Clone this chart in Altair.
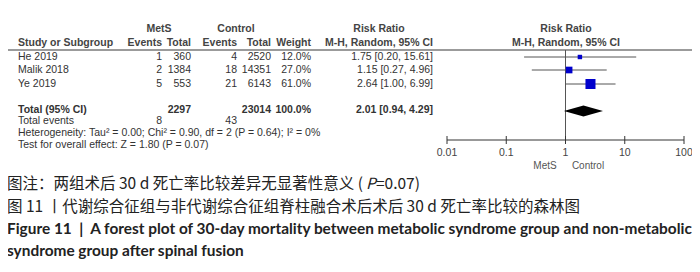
import altair as alt
import pandas as pd

# ---------------- data ----------------
studies = ["He 2019", "Malik 2018", "Ye 2019"]
mets_events = [1, 2, 5]
mets_total = [360, 1384, 553]
ctrl_events = [4, 18, 21]
ctrl_total = [2520, 14351, 6143]
weights = [12.0, 27.0, 61.0]
rr = [1.75, 1.15, 2.64]
rr_lo = [0.20, 0.27, 1.00]
rr_hi = [15.61, 4.96, 6.99]

total_label = "Total (95% CI)"
total_mets = 2297
total_ctrl = 23014
total_weight = 100.0
total_events_mets = 8
total_events_ctrl = 43
pooled_rr = 2.01
pooled_lo = 0.94
pooled_hi = 4.29
heterogeneity = "Heterogeneity: Tau\u00b2 = 0.00; Chi\u00b2 = 0.90, df = 2 (P = 0.64); I\u00b2 = 0%"
overall = "Test for overall effect: Z = 1.80 (P = 0.07)"
axis_ticks = [0.01, 0.1, 1, 10, 100]
axis_tick_labels = ["0.01", "0.1", "1", "10", "100"]
favours = ["MetS", "Control"]

caption1a = "图注：两组术后 30 d 死亡率比较差异无显著性意义 ("
caption1p = "P"
caption1b = "=0.07)"
caption2 = "图 11 丨代谢综合征组与非代谢综合征组脊柱融合术后术后 30 d 死亡率比较的森林图"
caption3 = "Figure 11\u00a0\u00a0|\u00a0\u00a0A forest plot of 30-day mortality between metabolic syndrome group and non-metabolic"
caption4 = "syndrome group after spinal fusion"

# ---------------- layout (page pixels) ----------------
W, H = 684, 256
XS = alt.Scale(domain=[8, 692], range=[0, W], nice=False, zero=False)
YS = alt.Scale(domain=[8, 264], range=[0, H], nice=False, zero=False)
LOGX = alt.Scale(type="log", domain=[0.01, 100], range=[439, 676], nice=False)

Y_HEAD1, Y_HEAD2, Y_LINE = 29, 43, 50
ROW_Y = [57, 70, 84]
Y_TOTAL, Y_TEV, Y_HET, Y_TEST = 110, 121, 133, 145
Y_DIAMOND = 111
Y_AXIS, Y_TICKLAB, Y_FAV = 140, 153, 166
X_STUDY, X_EV1, X_TOT1, X_EV2, X_TOT2, X_W, X_RR, X_RRC = 18, 162, 191, 237, 271, 311, 433, 379
X_FP = 566

TXT = "#333333"
FONT = "Liberation Sans"
FS = 10.5


def text_layer(rows, align="left", weight="normal", size=FS, color=TXT, font=FONT, style="normal"):
    df = pd.DataFrame(rows, columns=["x", "y", "t"])
    return alt.Chart(df).mark_text(
        align=align, baseline="middle", font=font, fontSize=size,
        fontWeight=weight, fontStyle=style, color=color
    ).encode(
        x=alt.X("x:Q", scale=XS, axis=None),
        y=alt.Y("y:Q", scale=YS, axis=None),
        text="t:N",
    )


layers = []

# headers
layers.append(text_layer([
    [159, Y_HEAD1, "MetS"], [236, Y_HEAD1, "Control"],
    [X_RRC, Y_HEAD1, "Risk Ratio"], [X_FP, Y_HEAD1, "Risk Ratio"],
    [X_RRC, Y_HEAD2, "M-H, Random, 95% CI"], [X_FP, Y_HEAD2, "M-H, Random, 95% CI"],
], align="center", weight="bold", color="#444444"))
layers.append(text_layer([[X_STUDY, Y_HEAD2, "Study or Subgroup"]], weight="bold", color="#444444"))
layers.append(text_layer([
    [X_EV1, Y_HEAD2, "Events"], [X_TOT1, Y_HEAD2, "Total"],
    [X_EV2, Y_HEAD2, "Events"], [X_TOT2, Y_HEAD2, "Total"],
    [X_W, Y_HEAD2, "Weight"],
], align="right", weight="bold", color="#444444"))

# header line
line_df = pd.DataFrame({"x": [7], "x2": [692], "y": [Y_LINE]})
layers.append(alt.Chart(line_df).mark_rule(color="#7a7a7a", strokeWidth=1.5).encode(
    x=alt.X("x:Q", scale=XS, axis=None), x2="x2:Q", y=alt.Y("y:Q", scale=YS, axis=None)))

# study rows
left_rows = [[X_STUDY, y, s] for s, y in zip(studies, ROW_Y)]
left_rows += [[X_STUDY, Y_TEV, "Total events"], [X_STUDY, Y_HET, heterogeneity], [X_STUDY, Y_TEST, overall]]
layers.append(text_layer(left_rows))
right_rows = []
for i, y in enumerate(ROW_Y):
    right_rows += [
        [X_EV1, y, str(mets_events[i])], [X_TOT1, y, str(mets_total[i])],
        [X_EV2, y, str(ctrl_events[i])], [X_TOT2, y, str(ctrl_total[i])],
        [X_W, y, f"{weights[i]:.1f}%"],
        [X_RR, y, f"{rr[i]:.2f} [{rr_lo[i]:.2f}, {rr_hi[i]:.2f}]"],
    ]
right_rows += [[X_EV1, Y_TEV, str(total_events_mets)], [X_EV2, Y_TEV, str(total_events_ctrl)]]
layers.append(text_layer(right_rows, align="right"))

# total row (bold)
layers.append(text_layer([[X_STUDY, Y_TOTAL, total_label]], weight="bold"))
layers.append(text_layer([
    [X_TOT1, Y_TOTAL, str(total_mets)], [X_TOT2, Y_TOTAL, str(total_ctrl)],
    [X_W, Y_TOTAL, f"{total_weight:.1f}%"],
    [X_RR, Y_TOTAL, f"{pooled_rr:.2f} [{pooled_lo:.2f}, {pooled_hi:.2f}]"],
], align="right", weight="bold"))

# ---------------- forest plot ----------------
forest = pd.DataFrame({"rr": rr, "lo": rr_lo, "hi": rr_hi, "w": weights, "y": ROW_Y})

null_df = pd.DataFrame({"v": [1], "y1": [Y_LINE], "y2": [Y_AXIS]})
layers.append(alt.Chart(null_df).mark_rule(color="#555555", strokeWidth=1).encode(
    x=alt.X("v:Q", scale=LOGX, axis=None),
    y=alt.Y("y1:Q", scale=YS, axis=None), y2="y2:Q"))

layers.append(alt.Chart(forest).mark_rule(color="#555555", strokeWidth=1).encode(
    x=alt.X("lo:Q", scale=LOGX, axis=None), x2="hi:Q",
    y=alt.Y("y:Q", scale=YS, axis=None)))

layers.append(alt.Chart(forest).mark_square(color="#0000cc", opacity=1, filled=True).encode(
    x=alt.X("rr:Q", scale=LOGX, axis=None),
    y=alt.Y("y:Q", scale=YS, axis=None),
    size=alt.Size("w:Q", scale=alt.Scale(domain=[0, 100], range=[0, 165]), legend=None)))

diamond = pd.DataFrame({
    "x": [pooled_lo, pooled_rr, pooled_hi],
    "yt": [Y_DIAMOND, Y_DIAMOND - 5.5, Y_DIAMOND],
    "yb": [Y_DIAMOND, Y_DIAMOND + 5.5, Y_DIAMOND],
})
layers.append(alt.Chart(diamond).mark_area(color="black", orient="vertical", interpolate="linear").encode(
    x=alt.X("x:Q", scale=LOGX, axis=None),
    y=alt.Y("yt:Q", scale=YS, axis=None), y2="yb:Q"))

# axis
ax_df = pd.DataFrame({"a": [axis_ticks[0]], "b": [axis_ticks[-1]], "y": [Y_AXIS]})
layers.append(alt.Chart(ax_df).mark_rule(color="#333333", strokeWidth=1).encode(
    x=alt.X("a:Q", scale=LOGX, axis=None), x2="b:Q", y=alt.Y("y:Q", scale=YS, axis=None)))
ticks_df = pd.DataFrame({"t": axis_ticks, "lab": axis_tick_labels,
                         "y1": [Y_AXIS - 4] * 5, "y2": [Y_AXIS + 4] * 5, "yl": [Y_TICKLAB] * 5})
layers.append(alt.Chart(ticks_df).mark_rule(color="#333333", strokeWidth=1).encode(
    x=alt.X("t:Q", scale=LOGX, axis=None),
    y=alt.Y("y1:Q", scale=YS, axis=None), y2="y2:Q"))
layers.append(alt.Chart(ticks_df).mark_text(font=FONT, fontSize=10.5, color="#444444", baseline="middle").encode(
    x=alt.X("t:Q", scale=LOGX, axis=None),
    y=alt.Y("yl:Q", scale=YS, axis=None), text="lab:N"))
layers.append(text_layer([[545, Y_FAV, favours[0]]], align="center", color="#555555", size=10))
layers.append(text_layer([[588, Y_FAV, favours[1]]], align="center", color="#555555", size=10))

# ---------------- captions ----------------
CJK = "Noto Sans CJK SC"
layers.append(text_layer([[7, 184, caption1a], [7, 207, caption2]], font=CJK, size=15.5, color="#222222"))
layers.append(text_layer([[366, 184, caption1p]], font=CJK, size=15.5, color="#222222", style="italic"))
layers.append(text_layer([[376, 184, caption1b]], font=CJK, size=15.5, color="#222222"))
layers.append(text_layer([[7, 229, caption3], [7, 251, caption4]], font="Lato", size=15.4, weight="bold", color="#222222"))

chart = alt.layer(*layers).resolve_scale(x="independent").properties(
    width=W, height=H, padding=0, autosize=alt.AutoSizeParams(type="none"), background="white"
).configure_view(stroke=None)

chart.save("out.html", embed_options={"renderer": "svg", "actions": False})
